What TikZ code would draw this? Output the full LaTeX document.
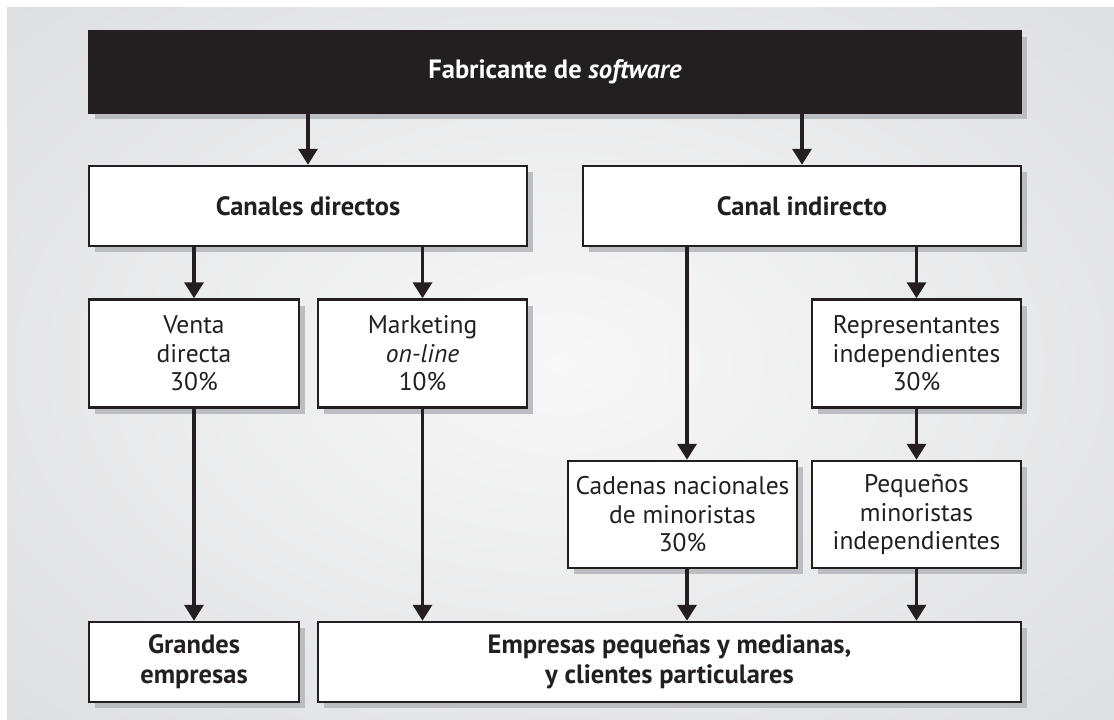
\documentclass[tikz,border=0pt]{standalone}
\usepackage{fontspec}
\setmainfont{PT Sans}
\usepackage{tikz}
\usetikzlibrary{arrows.meta, shadows}
\definecolor{ink}{RGB}{35, 31, 32}
\definecolor{panel}{RGB}{220, 221, 223}
\definecolor{panelhi}{RGB}{248, 248, 248}
\definecolor{shade}{RGB}{188, 189, 193}
\pgfdeclareradialshading{panelglow}{\pgfpoint{0bp}{0bp}}{color(0bp)=(panelhi); color(38bp)=(panel); color(50bp)=(panel)}

\begin{document}
\begin{tikzpicture}[x=1pt, y=-1pt,
    box/.style={draw=ink, line width=2.5pt, fill=white, text=ink, align=center, inner sep=0pt,
      font=\fontsize{25.5}{28.5}\selectfont,
      drop shadow={shadow xshift=6pt, shadow yshift=-6pt, fill=shade, opacity=1}},
    headbox/.style={box, font=\fontsize{26.5}{30}\selectfont\bfseries},
    topbox/.style={headbox, draw=ink, fill=ink, text=white},
    arr/.style={draw=ink, line width=3.5pt, -{Triangle[width=19pt,length=16pt]}}]
      % Background panel
      \useasboundingbox (0,0) rectangle (1114,720);
      \fill[white] (0,0) rectangle (1114,720);
      \shade[shading=panelglow] (7,7) rectangle (1114,720);
      % Boxes
      \node[topbox, minimum width=932pt, minimum height=82pt] (fab) at (555,72) {Fabricante de \textit{software}};
      \node[headbox, minimum width=438pt, minimum height=80pt] (dir) at (308,206) {Canales directos};
      \node[headbox, minimum width=438pt, minimum height=80pt] (ind) at (802,206) {Canal indirecto};
      \node[box, minimum width=210pt, minimum height=108pt] (venta) at (194,353.5) {Venta\\directa\\30\%};
      \node[box, minimum width=209pt, minimum height=108pt] (mkt) at (422.5,353.5) {Marketing\\\textit{on-line}\\10\%};
      \node[box, minimum width=209pt, minimum height=108pt] (rep) at (916.5,353.5) {Representantes\\independientes\\30\%};
      \node[box, minimum width=229pt, minimum height=107pt] (cad) at (682.5,514.5) {Cadenas nacionales\\de minoristas\\30\%};
      \node[box, minimum width=209pt, minimum height=107pt] (peq) at (916.5,514.5) {Pequeños\\minoristas\\independientes};
      \node[headbox, minimum width=210pt, minimum height=80pt] (gran) at (194,662) {Grandes\\empresas};
      \node[headbox, minimum width=703pt, minimum height=80pt] (pyme) at (669.5,662) {Empresas pequeñas y medianas,\\y clientes particulares};
      \coordinate (cadin) at ([xshift=4.5pt]cad.north);
      \coordinate (cadout) at ([xshift=4.5pt]cad.south);
      % Arrows
      \draw[arr] (fab.south -| dir.north) -- (dir.north);
      \draw[arr] (fab.south -| ind.north) -- (ind.north);
      \draw[arr] (dir.south -| venta.north) -- (venta.north);
      \draw[arr] (dir.south -| mkt.north) -- (mkt.north);
      \draw[arr] (ind.south -| cadin) -- (cadin);
      \draw[arr] (ind.south -| rep.north) -- (rep.north);
      \draw[arr] (rep.south) -- (peq.north);
      \draw[arr] (venta.south) -- (gran.north);
      \draw[arr] (mkt.south) -- (mkt.south |- pyme.north);
      \draw[arr] (cadout) -- (cadout |- pyme.north);
      \draw[arr] (peq.south) -- (peq.south |- pyme.north);
    \end{tikzpicture}
\end{document}
